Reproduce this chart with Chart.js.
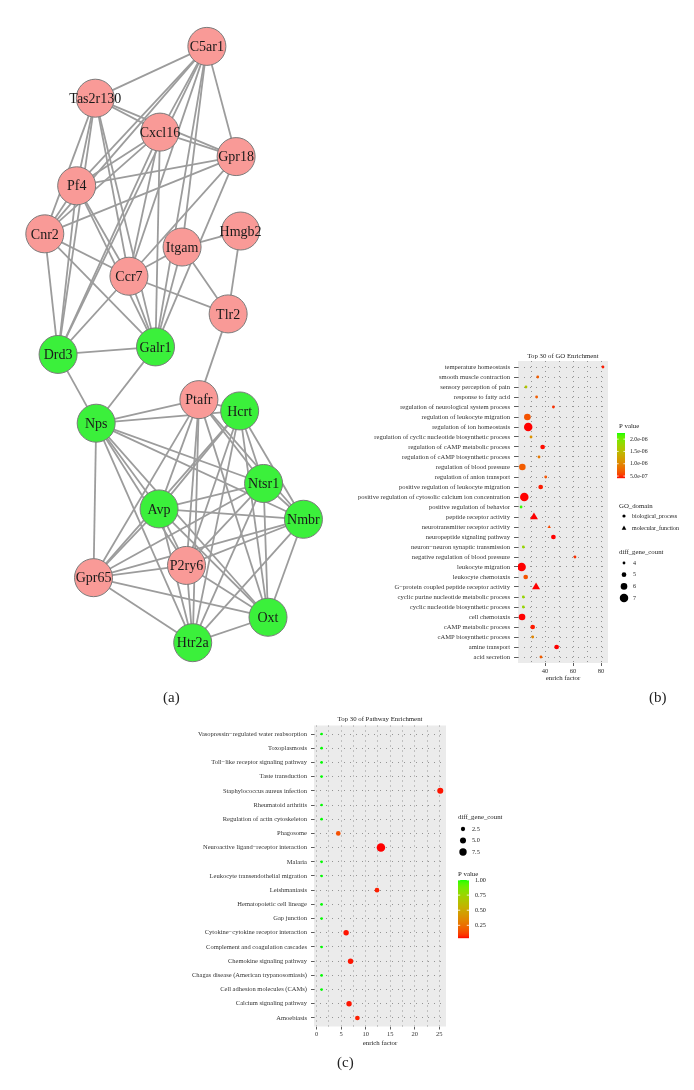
<!DOCTYPE html>
<html>
<head>
<meta charset="utf-8">
<script src="https://cdn.jsdelivr.net/npm/chart.js@4.4.0/dist/chart.umd.min.js"></script>
<style>
  body { margin: 0; background: #fff; width: 694px; height: 1090px; position: relative; overflow: hidden; font-family: "Liberation Serif", serif; }
  canvas { position: absolute; }
  .lab { position: absolute; font-size: 15px; color: #222; }
</style>
</head>
<body>
<canvas id="net" width="350" height="690" style="left:0px;top:0px"></canvas>
<canvas id="go" width="354" height="345" style="left:340px;top:345px"></canvas>
<canvas id="kegg" width="390" height="380" style="left:150px;top:705px"></canvas>
<div class="lab" style="left:163px;top:689px">(a)</div>
<div class="lab" style="left:649px;top:689px">(b)</div>
<div class="lab" style="left:337px;top:1054px">(c)</div>
<script>
const SERIF = "Liberation Serif";

// ---------- (a) network ----------
const nodeNames = ["C5ar1", "Tas2r130", "Cxcl16", "Gpr18", "Pf4", "Cnr2", "Hmgb2", "Itgam", "Ccr7", "Tlr2", "Galr1",
  "Drd3", "Ptafr", "Hcrt", "Nps", "Ntsr1", "Avp", "Nmbr", "P2ry6", "Gpr65", "Oxt", "Htr2a"];
const nodeX = [211, 85, 158, 244, 64, 28, 249, 183, 123, 235, 153, 43, 202, 248, 86, 275, 157, 320, 188, 83, 280, 195];
const nodeY = [28, 83, 119, 145, 176, 227, 224, 241, 272, 312, 347, 355, 403, 415, 428, 492, 519, 530, 579, 592, 634, 661];
const nodeUp = [1, 1, 1, 1, 1, 1, 1, 1, 1, 1, 0, 0, 1, 0, 0, 0, 0, 0, 1, 1, 0, 0];
const edges = [
  ["C5ar1", "Tas2r130"], ["C5ar1", "Gpr18"], ["C5ar1", "Cxcl16"], ["C5ar1", "Pf4"], ["C5ar1", "Ccr7"], ["C5ar1", "Itgam"],
  ["C5ar1", "Galr1"], ["C5ar1", "Drd3"], ["C5ar1", "Cnr2"],
  ["Tas2r130", "Cxcl16"], ["Tas2r130", "Gpr18"], ["Tas2r130", "Pf4"], ["Tas2r130", "Cnr2"], ["Tas2r130", "Drd3"],
  ["Tas2r130", "Ccr7"], ["Tas2r130", "Galr1"],
  ["Cxcl16", "Gpr18"], ["Cxcl16", "Pf4"], ["Cxcl16", "Cnr2"], ["Cxcl16", "Ccr7"], ["Cxcl16", "Drd3"], ["Cxcl16", "Galr1"],
  ["Gpr18", "Pf4"], ["Gpr18", "Cnr2"], ["Gpr18", "Ccr7"], ["Gpr18", "Galr1"],
  ["Pf4", "Cnr2"], ["Pf4", "Drd3"], ["Pf4", "Ccr7"], ["Pf4", "Galr1"],
  ["Cnr2", "Drd3"], ["Cnr2", "Ccr7"], ["Cnr2", "Galr1"],
  ["Itgam", "Hmgb2"], ["Itgam", "Ccr7"], ["Itgam", "Tlr2"], ["Itgam", "Galr1"],
  ["Ccr7", "Tlr2"], ["Ccr7", "Galr1"], ["Ccr7", "Drd3"], ["Hmgb2", "Tlr2"], ["Tlr2", "Ptafr"],
  ["Drd3", "Galr1"], ["Drd3", "Nps"], ["Galr1", "Nps"],
  ["Nps", "Ptafr"], ["Nps", "Hcrt"], ["Nps", "Ntsr1"], ["Nps", "Nmbr"], ["Nps", "Avp"], ["Nps", "P2ry6"], ["Nps", "Oxt"],
  ["Nps", "Htr2a"], ["Nps", "Gpr65"],
  ["Ptafr", "Hcrt"], ["Ptafr", "Ntsr1"], ["Ptafr", "Nmbr"], ["Ptafr", "Avp"], ["Ptafr", "P2ry6"], ["Ptafr", "Gpr65"],
  ["Ptafr", "Htr2a"], ["Ptafr", "Oxt"],
  ["Hcrt", "Ntsr1"], ["Hcrt", "Nmbr"], ["Hcrt", "Avp"], ["Hcrt", "Gpr65"], ["Hcrt", "P2ry6"], ["Hcrt", "Htr2a"], ["Hcrt", "Oxt"],
  ["Ntsr1", "Avp"], ["Ntsr1", "Nmbr"], ["Ntsr1", "P2ry6"], ["Ntsr1", "Gpr65"], ["Ntsr1", "Oxt"], ["Ntsr1", "Htr2a"],
  ["Avp", "Nmbr"], ["Avp", "P2ry6"], ["Avp", "Gpr65"], ["Avp", "Oxt"], ["Avp", "Htr2a"],
  ["Nmbr", "P2ry6"], ["Nmbr", "Gpr65"], ["Nmbr", "Oxt"], ["Nmbr", "Htr2a"],
  ["P2ry6", "Gpr65"], ["P2ry6", "Oxt"], ["P2ry6", "Htr2a"],
  ["Gpr65", "Oxt"], ["Gpr65", "Htr2a"], ["Oxt", "Htr2a"]
];

// ---------- (b) GO enrichment ----------
const goTerms = [
  "temperature homeostasis", "smooth muscle contraction", "sensory perception of pain", "response to fatty acid",
  "regulation of neurological system process", "regulation of leukocyte migration", "regulation of ion homeostasis",
  "regulation of cyclic nucleotide biosynthetic process", "regulation of cAMP metabolic process",
  "regulation of cAMP biosynthetic process", "regulation of blood pressure", "regulation of anion transport",
  "positive regulation of leukocyte migration", "positive regulation of cytosolic calcium ion concentration",
  "positive regulation of behavior", "peptide receptor activity", "neurotransmitter receptor activity",
  "neuropeptide signaling pathway", "neuron\u2212neuron synaptic transmission", "negative regulation of blood pressure",
  "leukocyte migration", "leukocyte chemotaxis", "G\u2212protein coupled peptide receptor activity",
  "cyclic purine nucleotide metabolic process", "cyclic nucleotide biosynthetic process", "cell chemotaxis",
  "cAMP metabolic process", "cAMP biosynthetic process", "amine transport", "acid secretion"
];
const goFactor = [81.4, 34.8, 26.4, 34.0, 46.0, 27.4, 28.0, 30.0, 38.3, 35.7, 23.8, 40.5, 36.9, 25.2, 22.9,
  32.1, 43.0, 46.0, 24.5, 61.4, 23.3, 26.2, 33.6, 24.5, 24.5, 23.6, 31.2, 31.2, 48.3, 37.1];
const goPvalue = [4.5e-7, 7e-7, 1.6e-6, 7e-7, 5e-7, 6.5e-7, 4.2e-7, 1.1e-6, 4.3e-7, 9e-7, 7e-7, 6.5e-7, 4.5e-7, 4.2e-7, 2.2e-6,
  4.2e-7, 6e-7, 4.2e-7, 1.8e-6, 5e-7, 4.2e-7, 6.5e-7, 4.2e-7, 1.8e-6, 1.8e-6, 4.2e-7, 4.5e-7, 1.0e-6, 4.2e-7, 7e-7];
const goCount = [4, 4, 4, 4, 4, 6, 7, 4, 5, 4, 6, 4, 5, 7, 4, 6, 4, 5, 4, 4, 7, 5, 6, 4, 4, 6, 5, 4, 5, 4];
const goDomain = ["BP", "BP", "BP", "BP", "BP", "BP", "BP", "BP", "BP", "BP", "BP", "BP", "BP", "BP", "BP",
  "MF", "MF", "BP", "BP", "BP", "BP", "BP", "MF", "BP", "BP", "BP", "BP", "BP", "BP", "BP"];
const goPRange = [4.2e-7, 2.25e-6];
const goPBreaks = [5e-7, 1e-6, 1.5e-6, 2e-6];
const goCountBreaks = [4, 5, 6, 7];

// ---------- (c) pathway enrichment ----------
const pathTerms = [
  "Vasopressin\u2212regulated water reabsorption", "Toxoplasmosis", "Toll\u2212like receptor signaling pathway",
  "Taste transduction", "Staphylococcus aureus infection", "Rheumatoid arthritis", "Regulation of actin cytoskeleton",
  "Phagosome", "Neuroactive ligand\u2212receptor interaction", "Malaria", "Leukocyte transendothelial migration",
  "Leishmaniasis", "Hematopoietic cell lineage", "Gap junction", "Cytokine\u2212cytokine receptor interaction",
  "Complement and coagulation cascades", "Chemokine signaling pathway", "Chagas disease (American trypanosomiasis)",
  "Cell adhesion molecules (CAMs)", "Calcium signaling pathway", "Amoebiasis"
];
const pathFactor = [1.0, 1.0, 1.0, 1.0, 25.2, 1.0, 1.0, 4.4, 13.1, 1.0, 1.0, 12.3, 1.0, 1.0, 6.0, 1.0, 6.9, 1.0, 1.0, 6.6, 8.3];
const pathPvalue = [1, 1, 1, 1, 0.05, 1, 1, 0.15, 0.04, 1, 1, 0.06, 1, 1, 0.05, 1, 0.05, 1, 1, 0.05, 0.06];
const pathCount = [1, 1, 1, 1, 5, 1, 1, 3, 10, 1, 1, 3, 1, 1, 4, 1, 4, 1, 1, 4, 3];
const pathPRange = [0.04, 1.0];
const pathPBreaks = [0.25, 0.5, 0.75, 1.0];
const pathCountBreaks = [2.5, 5.0, 7.5];

// colour scale red -> green, interpolated in Lab like ggplot
function lin(c) { c /= 255; return c <= 0.04045 ? c / 12.92 : Math.pow((c + 0.055) / 1.055, 2.4); }
function unlin(c) { c = c <= 0.0031308 ? 12.92 * c : 1.055 * Math.pow(c, 1 / 2.4) - 0.055; return Math.round(Math.max(0, Math.min(1, c)) * 255); }
function toLab(rgb) {
  const r = lin(rgb[0]), g = lin(rgb[1]), b = lin(rgb[2]);
  const X = (0.4124 * r + 0.3576 * g + 0.1805 * b) / 0.95047;
  const Y = 0.2126 * r + 0.7152 * g + 0.0722 * b;
  const Z = (0.0193 * r + 0.1192 * g + 0.9505 * b) / 1.08883;
  const f = t => t > 0.008856 ? Math.cbrt(t) : 7.787 * t + 16 / 116;
  return [116 * f(Y) - 16, 500 * (f(X) - f(Y)), 200 * (f(Y) - f(Z))];
}
function fromLab(lab) {
  const fy = (lab[0] + 16) / 116, fx = fy + lab[1] / 500, fz = fy - lab[2] / 200;
  const inv = t => t * t * t > 0.008856 ? t * t * t : (t - 16 / 116) / 7.787;
  const X = inv(fx) * 0.95047, Y = inv(fy), Z = inv(fz) * 1.08883;
  const r = 3.2406 * X - 1.5372 * Y - 0.4986 * Z;
  const g = -0.9689 * X + 1.8758 * Y + 0.0415 * Z;
  const b = 0.0557 * X - 0.2040 * Y + 1.0570 * Z;
  return "rgb(" + unlin(r) + "," + unlin(g) + "," + unlin(b) + ")";
}
const LOW = toLab([255, 0, 0]), HIGH = toLab([0, 255, 0]);
function pColor(p, range) {
  const t = Math.max(0, Math.min(1, (p - range[0]) / (range[1] - range[0])));
  return fromLab([0, 1, 2].map(k => LOW[k] + t * (HIGH[k] - LOW[k])));
}
const goRadius = c => 1.4 + (c - 4) * 0.95;
const pathRadius = c => 1.35 * Math.sqrt(c);

const panelBg = {
  id: "panelBg",
  beforeDraw(chart) {
    const a = chart.chartArea, ctx = chart.ctx;
    ctx.save();
    ctx.fillStyle = "#EBEBEB";
    ctx.fillRect(a.left, a.top, a.right - a.left, a.bottom - a.top);
    ctx.restore();
  }
};

function txt(ctx, s, x, y, size, align, color) {
  ctx.font = size + "px " + SERIF;
  ctx.textAlign = align || "left";
  ctx.textBaseline = "middle";
  ctx.fillStyle = color || "#222";
  ctx.fillText(s, x, y);
}

function colourbar(ctx, x, y, w, h, range, breaks, fmt, labelX, fs) {
  for (let i = 0; i < h; i++) {
    const t = 1 - (i + 0.5) / h;
    ctx.fillStyle = pColor(range[0] + t * (range[1] - range[0]), range);
    ctx.fillRect(x, y + i, w, 1.2);
  }
  breaks.forEach(b => {
    const yy = y + (1 - (b - range[0]) / (range[1] - range[0])) * h;
    ctx.strokeStyle = "#fff";
    ctx.lineWidth = 0.8;
    ctx.beginPath();
    ctx.moveTo(x, yy); ctx.lineTo(x + w * 0.2, yy);
    ctx.moveTo(x + w * 0.8, yy); ctx.lineTo(x + w, yy);
    ctx.stroke();
    txt(ctx, fmt(b), labelX, yy, fs);
  });
}

function gridOpts(major) {
  return {
    color: "rgba(40,40,40,0.75)",
    lineWidth: 0.6,
    tickLength: 3,
    tickWidth: 0.8,
    tickColor: c => (!major || (c.tick && major(c.tick.value))) ? "#333" : "rgba(0,0,0,0)"
  };
}

// ---------- draw (a) ----------
const idx = {};
nodeNames.forEach((n, i) => { idx[n] = i; });
const edgeSets = edges.map(e => ({
  data: [{ x: nodeX[idx[e[0]]], y: nodeY[idx[e[0]]] }, { x: nodeX[idx[e[1]]], y: nodeY[idx[e[1]]] }],
  showLine: true, borderColor: "#9c9c9c", borderWidth: 1.8, pointRadius: 0, order: 1
}));
const nodeLabels = {
  id: "nodeLabels",
  afterDatasetsDraw(chart) {
    const ctx = chart.ctx, sx = chart.scales.x, sy = chart.scales.y;
    ctx.save();
    nodeNames.forEach((n, i) => txt(ctx, n, sx.getPixelForValue(nodeX[i]), sy.getPixelForValue(nodeY[i]) + 1, 14, "center", "#1a1a1a"));
    ctx.restore();
  }
};
new Chart(document.getElementById("net"), {
  type: "scatter",
  data: {
    datasets: [{
      data: nodeNames.map((n, i) => ({ x: nodeX[i], y: nodeY[i] })),
      pointRadius: 19,
      backgroundColor: nodeUp.map(u => u ? "#F99A97" : "#3BF03B"),
      borderColor: "#7a7a7a",
      borderWidth: 1,
      order: 0
    }].concat(edgeSets)
  },
  options: {
    responsive: false, animation: false, events: [],
    layout: { padding: 0 },
    plugins: { legend: { display: false }, tooltip: { enabled: false } },
    scales: {
      x: { type: "linear", min: 0, max: 350, display: false },
      y: { type: "linear", min: 0, max: 690, reverse: true, display: false }
    }
  },
  plugins: [nodeLabels]
});

// ---------- draw (b) ----------
const goDecor = {
  id: "goDecor",
  afterDraw(chart) {
    const ctx = chart.ctx, a = chart.chartArea;
    ctx.save();
    txt(ctx, "Top 30 of GO Enrichment", (a.left + a.right) / 2, a.top - 5, 6.8, "center");
    txt(ctx, "enrich factor", (a.left + a.right) / 2, a.bottom + 15, 6.8, "center");
    txt(ctx, "P value", 279, 81, 6.8);
    colourbar(ctx, 277, 88, 8, 45, goPRange, goPBreaks, v => v.toExponential(1).replace("e-", "e-0"), 290, 5.8);
    txt(ctx, "GO_domain", 279, 161, 6.8);
    ctx.fillStyle = "#000";
    ctx.beginPath(); ctx.arc(284, 171, 1.6, 0, Math.PI * 2); ctx.fill();
    ctx.beginPath(); ctx.moveTo(284, 180.5); ctx.lineTo(286.3, 184.8); ctx.lineTo(281.7, 184.8); ctx.closePath(); ctx.fill();
    txt(ctx, "biological_process", 292, 171, 6);
    txt(ctx, "molecular_function", 292, 183, 6);
    txt(ctx, "diff_gene_count", 279, 207, 6.8);
    goCountBreaks.forEach((c, i) => {
      const yy = 218 + i * 11.7;
      ctx.fillStyle = "#000";
      ctx.beginPath(); ctx.arc(284, yy, goRadius(c), 0, Math.PI * 2); ctx.fill();
      txt(ctx, String(c), 293, yy, 6);
    });
    ctx.restore();
  }
};
new Chart(document.getElementById("go"), {
  type: "scatter",
  data: {
    datasets: [{
      data: goTerms.map((t, i) => ({ x: goFactor[i], y: i })),
      pointRadius: goCount.map((c, i) => goRadius(c) * (goDomain[i] === "MF" ? 1.4 : 1)),
      pointStyle: goDomain.map(d => d === "MF" ? "triangle" : "circle"),
      backgroundColor: goPvalue.map(p => pColor(p, goPRange)),
      borderWidth: 0
    }]
  },
  options: {
    responsive: false, animation: false, events: [],
    layout: { padding: { top: 16, right: 86, bottom: 0, left: 0 } },
    plugins: { legend: { display: false }, tooltip: { enabled: false } },
    scales: {
      x: {
        type: "linear", min: 20.7, max: 85,
        afterFit: s => { s.height = 27; },
        ticks: {
          stepSize: 10, includeBounds: false, autoSkip: false, maxRotation: 0, padding: 1, maxTicksLimit: 100,
          color: "#333", font: { family: SERIF, size: 6.6 },
          callback: v => v % 20 === 0 ? String(v) : ""
        },
        grid: gridOpts(v => v % 20 === 0),
        border: { display: false, dash: [1, 4] }
      },
      y: {
        type: "linear", min: -0.6, max: 29.6, reverse: true,
        afterFit: s => { s.width = 178; },
        ticks: {
          stepSize: 1, includeBounds: false, autoSkip: false, padding: 4, maxTicksLimit: 100,
          color: "#333", font: { family: SERIF, size: 6.6 },
          callback: v => goTerms[v] || ""
        },
        grid: Object.assign(gridOpts(null), { tickLength: 4 }),
        border: { display: false, dash: [1, 5] }
      }
    }
  },
  plugins: [panelBg, goDecor]
});

// ---------- draw (c) ----------
const pathDecor = {
  id: "pathDecor",
  afterDraw(chart) {
    const ctx = chart.ctx, a = chart.chartArea;
    ctx.save();
    txt(ctx, "Top 30 of Pathway Enrichment", (a.left + a.right) / 2, a.top - 6, 6.8, "center");
    txt(ctx, "enrich factor", (a.left + a.right) / 2, a.bottom + 16.5, 6.8, "center");
    txt(ctx, "diff_gene_count", 308, 112, 6.8);
    pathCountBreaks.forEach((c, i) => {
      const yy = 124 + i * 11.5;
      ctx.fillStyle = "#000";
      ctx.beginPath(); ctx.arc(313, yy, pathRadius(c), 0, Math.PI * 2); ctx.fill();
      txt(ctx, c.toFixed(1), 322, yy, 6.2);
    });
    txt(ctx, "P value", 308, 169, 6.8);
    colourbar(ctx, 308, 175, 11, 58, pathPRange, pathPBreaks, v => v.toFixed(2), 325, 6.2);
    ctx.restore();
  }
};
new Chart(document.getElementById("kegg"), {
  type: "scatter",
  data: {
    datasets: [{
      data: pathTerms.map((t, i) => ({ x: pathFactor[i], y: i })),
      pointRadius: pathCount.map(pathRadius),
      backgroundColor: pathPvalue.map(p => pColor(p, pathPRange)),
      borderWidth: 0
    }]
  },
  options: {
    responsive: false, animation: false, events: [],
    layout: { padding: { top: 20.5, right: 94, bottom: 0, left: 0 } },
    plugins: { legend: { display: false }, tooltip: { enabled: false } },
    scales: {
      x: {
        type: "linear", min: -0.55, max: 26.37,
        afterFit: s => { s.height = 58.5; },
        ticks: {
          stepSize: 2.5, includeBounds: false, autoSkip: false, maxRotation: 0, padding: 1, maxTicksLimit: 100,
          color: "#333", font: { family: SERIF, size: 6.5 },
          callback: v => v % 5 === 0 ? String(v) : ""
        },
        grid: gridOpts(v => v % 5 === 0),
        border: { display: false, dash: [1, 4] }
      },
      y: {
        type: "linear", min: -0.6, max: 20.6, reverse: true,
        afterFit: s => { s.width = 164; },
        ticks: {
          stepSize: 1, includeBounds: false, autoSkip: false, padding: 4, maxTicksLimit: 100,
          color: "#333", font: { family: SERIF, size: 6.5 },
          callback: v => pathTerms[v] || ""
        },
        grid: gridOpts(null),
        border: { display: false, dash: [1, 5] }
      }
    }
  },
  plugins: [panelBg, pathDecor]
});
</script>
</body>
</html>
